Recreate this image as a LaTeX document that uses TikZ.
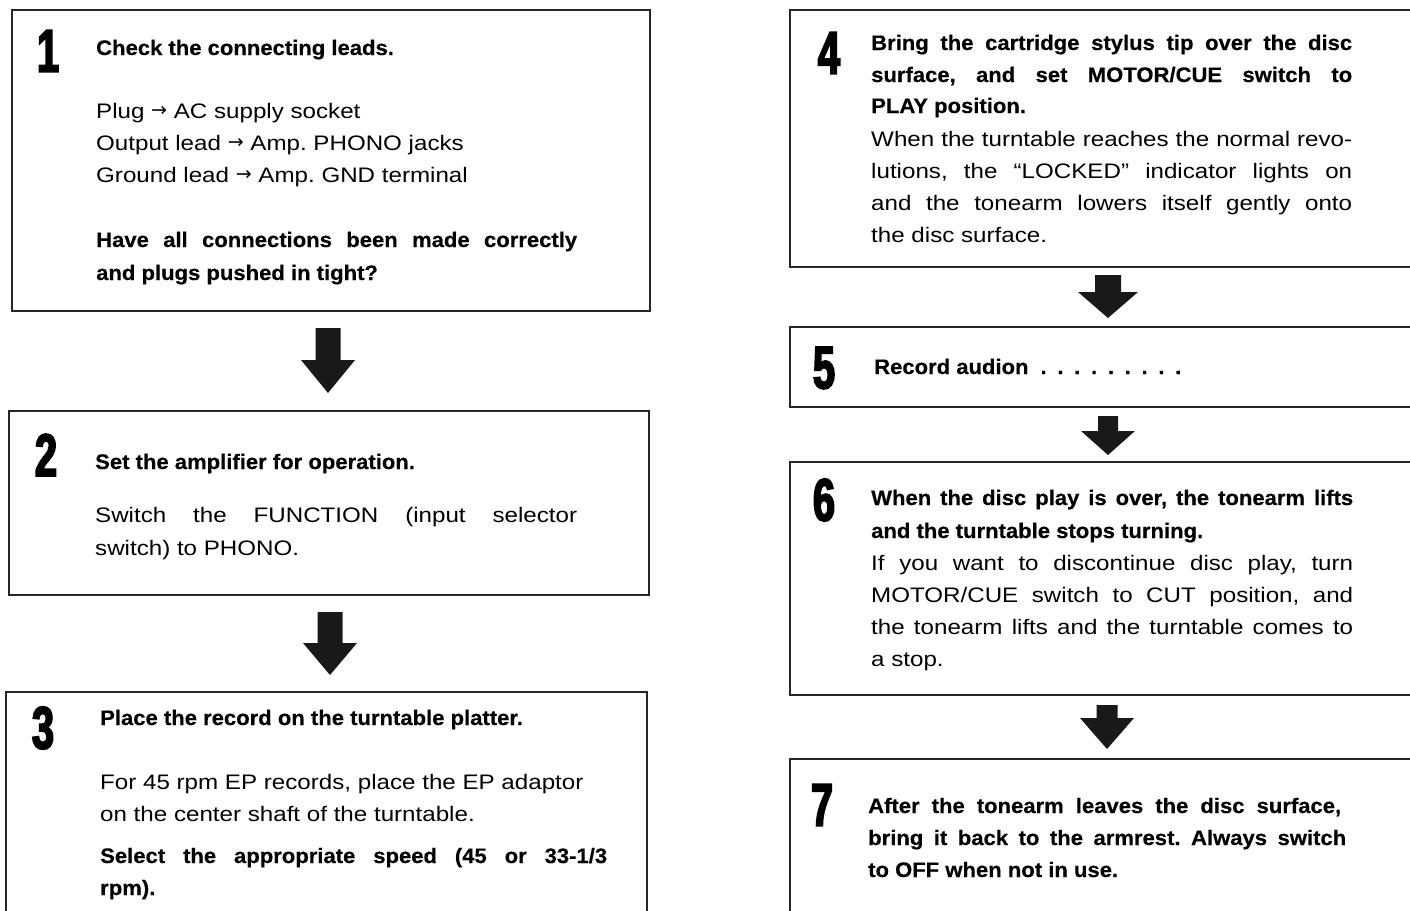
\documentclass[tikz,border=0pt]{standalone}
\usepackage{fontspec}
\newfontfamily\bodyf[FakeStretch=1.15]{Liberation Sans}
\newfontfamily\headf[FakeStretch=1.05,FakeBold=0.4]{Liberation Sans}
\newfontfamily\numf[FakeStretch=0.66,FakeBold=3]{Liberation Sans}
\newfontfamily\arrf{DejaVu Sans}
\frenchspacing
\newcommand\ra{{\arrf\fontsize{19}{19}\selectfont\raisebox{0.1ex}{→}}}
\newcommand\jl[2]{\makebox[#1pt][s]{#2}}
\newcommand\dotgap{\hspace*{10.7pt}}
\newcommand\blockdown[6]{%
  \fill[blockarrow] (#1-#5,#2) -- (#1+#5,#2) -- (#1+#5,#3) -- (#1+#6,#3) -- (#1,#4)
    -- (#1-#6,#3) -- (#1-#5,#3) -- cycle;}
\begin{document}
\begin{tikzpicture}[x=1pt,y=-1pt,
  box/.style={draw=black!85, line width=1.6pt, inner sep=0pt, outer sep=0pt, anchor=north west},
  num/.style={font=\numf\bfseries\fontsize{60}{60}\selectfont, inner sep=0pt, anchor=center},
  bt/.style={font=\headf\bfseries\fontsize{21}{32}\selectfont, inner sep=0pt, anchor=base west},
  rt/.style={font=\bodyf\fontsize{21}{32}\selectfont, inner sep=0pt, anchor=base west},
  blockarrow/.style={fill=black!90, draw=none}]
\useasboundingbox (0,0) rectangle (1410,910);
\fill[white] (0,0) rectangle (1410,910);
\begin{scope}
\clip (0,0) rectangle (1410,910);
% boxes
\node[box, minimum width=638pt, minimum height=301pt] (b1) at (12,10) {};
\node[box, minimum width=640pt, minimum height=184pt] (b2) at (9,411) {};
\node[box, minimum width=641pt, minimum height=240pt] (b3) at (6,692) {};
\node[box, minimum width=640pt, minimum height=257pt] (b4) at (790,10) {};
\node[box, minimum width=640pt, minimum height=80pt]  (b5) at (790,327) {};
\node[box, minimum width=640pt, minimum height=233pt] (b6) at (790,462) {};
\node[box, minimum width=640pt, minimum height=200pt] (b7) at (790,759) {};
\end{scope}
% arrows
\blockdown{328}{328}{360}{393}{12.5}{27}
\blockdown{330}{612}{643}{675}{12.5}{27}
\blockdown{1108}{275}{292}{318}{13}{30}
\blockdown{1108}{416}{431}{455}{10}{27}
\blockdown{1107}{705}{718}{749}{10.5}{27}
% numbers
\node[num] (n1) at (48,51) {1};
\node[num] (n2) at (46,455) {2};
\node[num] (n3) at (43,728) {3};
\node[num] (n4) at (829,53) {4};
\node[num] (n5) at (824,368) {5};
\node[num] (n6) at (824,500) {6};
\node[num] (n7) at (822,805) {7};
% box 1
\node[bt] (t1a) at (96,55) {Check the connecting leads.};
\node[rt] (t1b) at (96,118) {Plug \ra\ AC supply socket};
\node[rt] (t1c) at (96,150) {Output lead \ra\ Amp. PHONO jacks};
\node[rt] (t1d) at (96,182) {Ground lead \ra\ Amp. GND terminal};
\node[bt] (t1e) at (96,247) {\jl{481}{Have all connections been made correctly}};
\node[bt] (t1f) at (96,280) {and plugs pushed in tight?};
% box 2
\node[bt] (t2a) at (95,469) {Set the amplifier for operation.};
\node[rt] (t2b) at (95,522) {\jl{482}{Switch the FUNCTION (input selector}};
\node[rt] (t2c) at (95,555) {switch) to PHONO.};
% box 3
\node[bt] (t3a) at (100,725) {Place the record on the turntable platter.};
\node[rt] (t3b) at (100,789) {For 45 rpm EP records, place the EP adaptor};
\node[rt] (t3c) at (100,821) {on the center shaft of the turntable.};
\node[bt] (t3d) at (100,863) {\jl{507}{Select the appropriate speed (45 or 33-1/3}};
\node[bt] (t3e) at (100,895) {rpm).};
% box 4
\node[bt] (t4a) at (871,50) {\jl{481}{Bring the cartridge stylus tip over the disc}};
\node[bt] (t4b) at (871,82) {\jl{481}{surface, and set MOTOR/CUE switch to}};
\node[bt] (t4c) at (871,113) {PLAY position.};
\node[rt] (t4d) at (871,146) {\jl{481}{When the turntable reaches the normal revo-}};
\node[rt] (t4e) at (871,178) {\jl{481}{lutions, the “LOCKED” indicator lights on}};
\node[rt] (t4f) at (871,210) {\jl{481}{and the tonearm lowers itself gently onto}};
\node[rt] (t4g) at (871,242) {the disc surface.};
% box 5
\node[bt] (t5a) at (874,374) {Record audion\hspace*{12pt}.\dotgap.\dotgap.\dotgap.\dotgap.\dotgap.\dotgap.\dotgap.\dotgap.};
% box 6
\node[bt] (t6a) at (871,505) {\jl{482}{When the disc play is over, the tonearm lifts}};
\node[bt] (t6b) at (871,538) {and the turntable stops turning.};
\node[rt] (t6c) at (871,570) {\jl{482}{If you want to discontinue disc play, turn}};
\node[rt] (t6d) at (871,602) {\jl{482}{MOTOR/CUE switch to CUT position, and}};
\node[rt] (t6e) at (871,634) {\jl{482}{the tonearm lifts and the turntable comes to}};
\node[rt] (t6f) at (871,666) {a stop.};
% box 7
\node[bt] (t7a) at (868,813) {\jl{473}{After the tonearm leaves the disc surface,}};
\node[bt] (t7b) at (868,845) {\jl{478}{bring it back to the armrest. Always switch}};
\node[bt] (t7c) at (868,877) {to OFF when not in use.};
\end{tikzpicture}
\end{document}
